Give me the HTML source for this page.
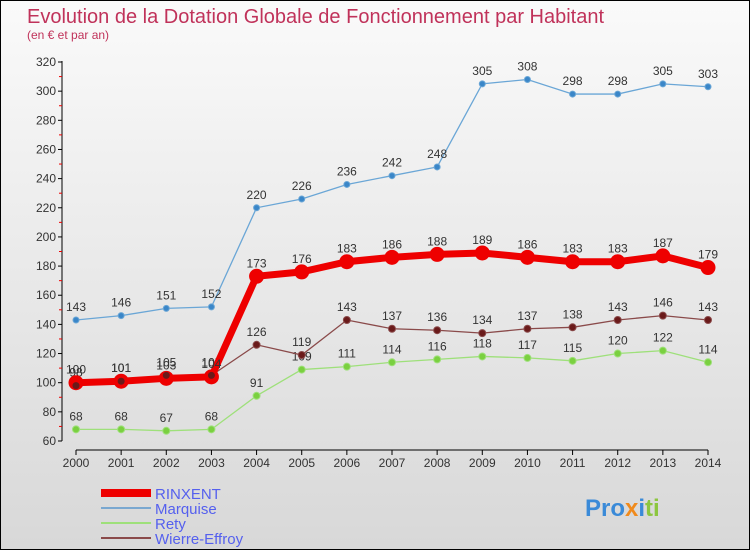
<!DOCTYPE html>
<html><head><meta charset="utf-8"><style>
body{margin:0}
#c{width:748px;height:548px;border:1px solid #000;position:relative;background:linear-gradient(#fafafa,#d8d8d8);font-family:"Liberation Sans",sans-serif;overflow:hidden}
</style></head><body>
<div id="c">
<svg id="s" width="748" height="548" style="position:absolute;left:0;top:0;font-family:'Liberation Sans',sans-serif">
<text x="26" y="22" font-size="20" fill="#c0325a">Evolution de la Dotation Globale de Fonctionnement par Habitant</text>
<text x="26" y="38" font-size="12" fill="#c0325a">(en € et par an)</text>
<text x="584" y="515" font-size="24" font-weight="bold" fill="#3a8ad8">Pro<tspan fill="#f08a1c">x</tspan><tspan fill="#3a8ad8">i</tspan><tspan fill="#8cc63f">ti</tspan></text>
</svg>
</div>
<script>
const years=[2000,2001,2002,2003,2004,2005,2006,2007,2008,2009,2010,2011,2012,2013,2014];
const rinxent=[100,101,103,104,173,176,183,186,188,189,186,183,183,187,179];
const marquise=[143,146,151,152,220,226,236,242,248,305,308,298,298,305,303];
const rety=[68,68,67,68,91,109,111,114,116,118,117,115,120,122,114];
const wierre=[98,101,105,105,126,119,143,137,136,134,137,138,143,146,143];
const yTicks=[60,80,100,120,140,160,180,200,220,240,260,280,300,320];
const NS="http://www.w3.org/2000/svg";
const svg=document.getElementById('s');
const X=i=>75+i*(707-75)/14;
const Y=v=>440-(v-60)*(440-61)/260;
function el(t,a,p){const e=document.createElementNS(NS,t);for(const k in a)e.setAttribute(k,a[k]);(p||svg).appendChild(e);return e;}
let ax=el('line',{x1:61,y1:60,x2:61,y2:440,stroke:'#000'});


let bx=el('line',{x1:75,y1:449,x2:707,y2:449,stroke:'#000'});


yTicks.forEach(v=>{
 el('line',{x1:57,y1:Y(v),x2:61,y2:Y(v),stroke:'#000'});
 if(v<320) el('line',{x1:58,y1:Y(v+10),x2:61,y2:Y(v+10),stroke:'#e00'});
 const t=el('text',{x:55,y:Y(v)+4,'text-anchor':'end','font-size':12,fill:'#333'});
 t.textContent=v;
 
 
});
years.forEach((y,i)=>{
 el('line',{x1:X(i),y1:449,x2:X(i),y2:454,stroke:'#000'});
 const t=el('text',{x:X(i),y:466,'text-anchor':'middle','font-size':12,fill:'#333'});
 t.textContent=y;
 
 
});
function series(data,color,w,r,dot,name){
 const g=el('g',{});
 
 
 el('polyline',{points:data.map((v,i)=>X(i)+','+Y(v)).join(' '),fill:'none',stroke:color,'stroke-width':w},g);
 data.forEach((v,i)=>{
  const c=el('circle',{cx:X(i),cy:Y(v),r:r,fill:dot,stroke:color,'stroke-width':1},g);
  
  
  const t=el('text',{x:X(i),y:Y(v)-9,'text-anchor':'middle','font-size':12,fill:'#333'},g);
  t.textContent=v;
  
  
 });
}
series(marquise,'#6aa6d6',1.3,3,'#3a86c8','marquise');
series(rety,'#9ee07a',1.3,3.5,'#7ad040','rety');
series(wierre,'#8a4a4a',1.3,3.5,'#6a1a1a','wierre-effroy');
series(rinxent,'#ee0000',7,7,'#ee0000','rinxent');
wierre.forEach((v,i)=>{if(i<4){const c=el('circle',{cx:X(i),cy:Y(v),r:3.5,fill:'#6a1a1a'});}});
const legend=[['RINXENT','#ee0000',8],['Marquise','#7aa8d0',2],['Rety','#9ee07a',2],['Wierre-Effroy','#8a4a4a',2]];
legend.forEach((l,i)=>{
 const y=492+i*15;
 const g=el('g',{});
 
 
 el('line',{x1:100,y1:y,x2:150,y2:y,stroke:l[1],'stroke-width':l[2]},g);
 const t=el('text',{x:154,y:y+6,'font-size':15,fill:'#5560ee'},g);
 t.textContent=l[0];
});
</script>
</body></html>
